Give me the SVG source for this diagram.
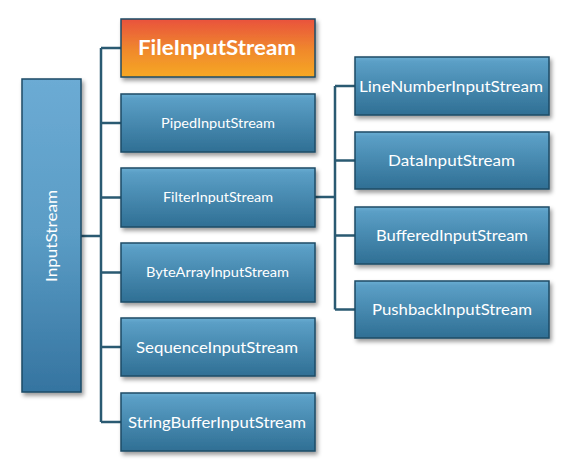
<svg xmlns="http://www.w3.org/2000/svg" width="566" height="468" viewBox="0 0 566 468">
<defs>
<linearGradient id="blue" x1="0" y1="0" x2="0" y2="1">
<stop offset="0" stop-color="#6aaed3"/>
<stop offset="0.08" stop-color="#5b9fc6"/>
<stop offset="1" stop-color="#2f6f94"/>
</linearGradient>
<linearGradient id="blueV" x1="0" y1="0" x2="0" y2="1">
<stop offset="0" stop-color="#6cabd4"/>
<stop offset="0.5" stop-color="#5a9cc5"/>
<stop offset="1" stop-color="#3574a0"/>
</linearGradient>
<linearGradient id="orange" x1="0" y1="0" x2="0" y2="1">
<stop offset="0" stop-color="#e9523c"/>
<stop offset="0.55" stop-color="#f08a2c"/>
<stop offset="1" stop-color="#f6a824"/>
</linearGradient>
<filter id="sh" x="-10%" y="-10%" width="125%" height="130%">
<feDropShadow dx="2" dy="3" stdDeviation="2" flood-color="#000" flood-opacity="0.4"/>
</filter>
</defs>
<style>
.box{fill:url(#blue);stroke:#1e4b66;stroke-width:1.5;filter:url(#sh)}
.lbl{font-family:Lato,"Open Sans","Liberation Sans",sans-serif;fill:#ffffff;text-anchor:middle}
.con{fill:none;stroke:#2a5a72;stroke-width:2.5}
</style>
<rect width="566" height="468" fill="#ffffff"/>
<g id="connectors">
<path class="con" d="M81 236H101M101 48V422M101 48H121M101 123H121M101 197.5H121M101 272.5H121M101 347H121M101 422H121"/>
<path class="con" d="M315 197H335M335 86V309.5M335 86H355M335 160.5H355M335 235.5H355M335 309.5H355"/>
</g>
<g id="InputStream">
<rect class="box" x="22" y="79" width="59" height="313" style="fill:url(#blueV)"/>
<text class="lbl" transform="translate(57 236) rotate(-90)" font-size="16" textLength="92" lengthAdjust="spacingAndGlyphs">InputStream</text>
</g>
<g id="FileInputStream">
<rect class="box" x="121" y="19" width="194" height="58" style="fill:url(#orange)"/>
<text class="lbl" x="217" y="55" font-size="20" font-weight="bold" textLength="158" lengthAdjust="spacingAndGlyphs">FileInputStream</text>
</g>
<g id="PipedInputStream">
<rect class="box" x="121" y="94" width="194" height="58"/>
<text class="lbl" x="218" y="127.5" font-size="13" textLength="114" lengthAdjust="spacingAndGlyphs">PipedInputStream</text>
</g>
<g id="FilterInputStream">
<rect class="box" x="121" y="168" width="194" height="59"/>
<text class="lbl" x="218" y="202" font-size="13" textLength="110" lengthAdjust="spacingAndGlyphs">FilterInputStream</text>
</g>
<g id="ByteArrayInputStream">
<rect class="box" x="121" y="243" width="194" height="59"/>
<text class="lbl" x="217.5" y="277" font-size="13.5" textLength="143" lengthAdjust="spacingAndGlyphs">ByteArrayInputStream</text>
</g>
<g id="SequenceInputStream">
<rect class="box" x="121" y="318" width="194" height="58"/>
<text class="lbl" x="217" y="352.5" font-size="16" textLength="162" lengthAdjust="spacingAndGlyphs">SequenceInputStream</text>
</g>
<g id="StringBufferInputStream">
<rect class="box" x="121" y="393" width="194" height="58"/>
<text class="lbl" x="217" y="427.5" font-size="16" textLength="178" lengthAdjust="spacingAndGlyphs">StringBufferInputStream</text>
</g>
<g id="LineNumberInputStream">
<rect class="box" x="355" y="57" width="194" height="58"/>
<text class="lbl" x="451" y="91.5" font-size="16" textLength="184" lengthAdjust="spacingAndGlyphs">LineNumberInputStream</text>
</g>
<g id="DataInputStream">
<rect class="box" x="355" y="132" width="194" height="57"/>
<text class="lbl" x="451.5" y="166" font-size="16" textLength="127" lengthAdjust="spacingAndGlyphs">DataInputStream</text>
</g>
<g id="BufferedInputStream">
<rect class="box" x="355" y="207" width="194" height="57"/>
<text class="lbl" x="452" y="241" font-size="16" textLength="152" lengthAdjust="spacingAndGlyphs">BufferedInputStream</text>
</g>
<g id="PushbackInputStream">
<rect class="box" x="355" y="281" width="194" height="57"/>
<text class="lbl" x="452" y="315" font-size="16" textLength="160" lengthAdjust="spacingAndGlyphs">PushbackInputStream</text>
</g>
</svg>
